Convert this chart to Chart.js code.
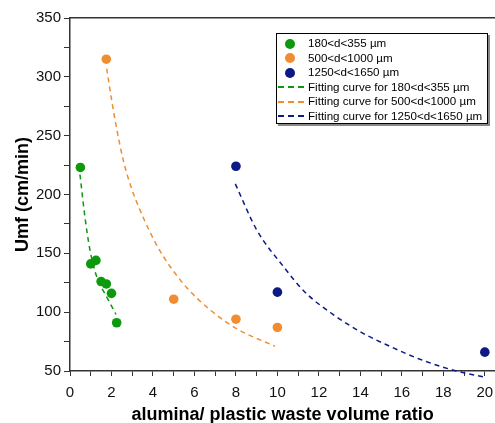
<!DOCTYPE html>
<html>
<head>
<meta charset="utf-8">
<script src="https://cdn.jsdelivr.net/npm/chart.js@4"></script>
<style>
  body { margin: 0; background: #fff; }
  #wrap { position: relative; width: 495px; height: 423px; overflow: hidden; }
  #legend {
    position: absolute; left: 276px; top: 33px; width: 212px; height: 91px;
    border: 1px solid #000; background: #fff; box-shadow: 2px 2px 0 #888;
    font: 11.6px "Liberation Sans", Arial, sans-serif; color: #000;
    box-sizing: border-box; padding-top: 2px;
  }
  .row { position: relative; height: 14.5px; line-height: 14.5px; padding-left: 31px; white-space: nowrap; }
  .dot { position: absolute; left: 8px; top: 2.5px; width: 10px; height: 10px; border-radius: 50%; }
  .dash { position: absolute; left: 1px; top: 6.5px; width: 27px; height: 2px; }
</style>
</head>
<body>
<div id="wrap">
  <canvas id="chart" width="500" height="423"></canvas>
  <div id="legend"></div>
</div>
<script>
// ── data ─────────────────────────────────────────────────────────
const greenX  = [0.5, 1.0, 1.25, 1.5, 1.75, 2.0, 2.25];
const greenY  = [223, 141, 144, 126, 124, 116, 91];
const orangeX = [1.75, 5, 8, 10];
const orangeY = [315, 111, 94, 87];
const navyX   = [8, 10, 20];
const navyY   = [224, 117, 66];

// fitted curves, sampled along the dashed lines
const greenFitX  = [0.48, 0.72, 0.96, 1.29, 1.77, 2.22];
const greenFitY  = [217, 181, 153, 130, 113, 98];
const orangeFitX = [1.77, 2.01, 2.25, 2.57, 2.97, 3.37, 3.86, 4.34, 4.9, 5.62, 6.75, 8.03, 9.88];
const orangeFitY = [307, 280, 256, 229, 205, 187, 168, 152, 137, 121, 102, 86, 71];
const navyFitX   = [7.97, 9.0, 10.28, 11.33, 12.69, 14.13, 15.42, 16.87, 18.63, 19.92];
const navyFitY   = [209, 170, 139, 117, 98, 82, 71, 60, 50, 45];

// axis ticks
const xTicks = [0, 1, 2, 3, 4, 5, 6, 7, 8, 9, 10, 11, 12, 13, 14, 15, 16, 17, 18, 19, 20];
const yTicks = [50, 75, 100, 125, 150, 175, 200, 225, 250, 275, 300, 325, 350];

const labels = ["180<d<355 µm", "500<d<1000 µm", "1250<d<1650 µm"];
const colors = ["#0c9a0c", "#f28c30", "#0b1a84"];

const pts = (xs, ys) => xs.map((x, i) => ({ x, y: ys[i] }));

function scatterSet(i, xs, ys) {
    return {
        label: labels[i],
        data: pts(xs, ys),
        backgroundColor: colors[i],
        borderColor: colors[i],
        pointRadius: 4.8,
        pointBorderWidth: 0,
        showLine: false,
    };
}

function fitSet(i, xs, ys) {
    return {
        label: "Fitting curve for " + labels[i],
        data: pts(xs, ys),
        borderColor: colors[i],
        borderWidth: 1.5,
        borderDash: [5, 4],
        pointRadius: 0,
        showLine: true,
        cubicInterpolationMode: "monotone",
        clip: false,
    };
}

const AXIS = "#333";
const FONT = "'Liberation Sans', Arial, sans-serif";

new Chart(document.getElementById("chart"), {
    type: "scatter",
    data: {
        datasets: [
            scatterSet(0, greenX, greenY),
            scatterSet(1, orangeX, orangeY),
            scatterSet(2, navyX, navyY),
            fitSet(0, greenFitX, greenFitY),
            fitSet(1, orangeFitX, orangeFitY),
            fitSet(2, navyFitX, navyFitY),
        ]
    },
    options: {
        responsive: false,
        animation: false,
        layout: { padding: 0 },
        plugins: { legend: { display: false }, tooltip: { enabled: false } },
        scales: {
            x: {
                type: "linear", min: 0, max: 20.5,
                afterBuildTicks: (s) => { s.ticks = xTicks.map(v => ({ value: v })); },
                afterFit: (s) => { s.height = 52; s.paddingLeft = 0; s.paddingRight = 0; },
                ticks: {
                    autoSkip: false, maxRotation: 0, padding: 8,
                    color: "#111", font: { family: FONT, size: 15 },
                    callback: (v) => v % 2 === 0 ? v : "",
                },
                grid: { drawOnChartArea: false, drawTicks: true, tickLength: 5, color: AXIS },
                border: { display: true, color: AXIS, width: 1.5 },
                title: {
                    display: true, text: "alumina/ plastic waste volume ratio",
                    color: "#000", font: { family: FONT, size: 18, weight: "bold", lineHeight: 1 },
                    padding: { top: 0, bottom: -1 },
                },
            },
            x2: {
                type: "linear", position: "top", min: 0, max: 20.5,
                afterFit: (s) => { s.height = 18; s.paddingLeft = 0; s.paddingRight = 0; },
                ticks: { display: false },
                grid: { display: false, drawTicks: false },
                border: { display: true, color: AXIS, width: 1.5 },
            },
            y: {
                min: 50, max: 350,
                afterBuildTicks: (s) => { s.ticks = yTicks.map(v => ({ value: v })); },
                afterFit: (s) => { s.width = 70; s.paddingTop = 0; s.paddingBottom = 0; },
                ticks: {
                    autoSkip: false, padding: 3,
                    color: "#111", font: { family: FONT, size: 15 },
                    callback: (v) => v % 50 === 0 ? v : "",
                },
                grid: { drawOnChartArea: false, drawTicks: true, tickLength: 6, color: AXIS },
                border: { display: true, color: AXIS, width: 1.5 },
                title: {
                    display: true, text: "Umf (cm/min)",
                    color: "#000", font: { family: FONT, size: 18, weight: "bold", lineHeight: 1 },
                    padding: { top: 14, bottom: 0 },
                },
            },
        }
    }
});

// ── legend box inside the plot ───────────────────────────────────
const legend = document.getElementById("legend");
function addRow(cls, color, text) {
    const row = document.createElement("div");
    row.className = "row";
    const mark = document.createElement("span");
    mark.className = cls;
    mark.style.background = cls === "dot" ? color
        : `repeating-linear-gradient(to right, ${color} 0 6px, transparent 6px 10px)`;
    row.appendChild(mark);
    row.appendChild(document.createTextNode(text));
    legend.appendChild(row);
}
labels.forEach((l, i) => addRow("dot", colors[i], l));
labels.forEach((l, i) => addRow("dash", colors[i], "Fitting curve for " + l));
</script>
</body>
</html>
